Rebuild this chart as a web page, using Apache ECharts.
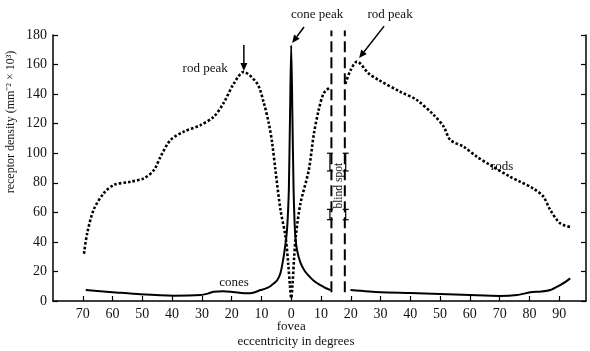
<!DOCTYPE html>
<html>
<head>
<meta charset="utf-8">
<script src="https://cdn.jsdelivr.net/npm/echarts@6/dist/echarts.min.js"></script>
<style>
  html, body { margin: 0; padding: 0; background: #fff; }
  #chart { width: 590px; height: 351px; }
</style>
</head>
<body>
<div id="chart"></div>
<script>
// eccentricity (degrees, negative = left half of the plot) and density (mm^-2 x 10^3)
var rodDeg = [-69.6, -68.5, -66.3, -62.9, -59.6, -54, -49.5, -46.1, -43.9, -40.5, -36.2, -30.5, -26, -22.7, -19.3, -16,
  -11.4, -9.2, -7.5, -6.4, -5.3, -3.6, -1.9, -1.0, -0.4, 0, 0.4, 1.0, 1.6, 3.1, 5.9, 7.6, 9.2, 10.9, 13.2,
  null, 18.2, 19.9, 22.1, 26, 29.4, 36.6, 42.2, 47.8, 51.2, 53.4, 57.9, 62.4, 66.8, 73.6, 76.9, 81.4, 84.7, 87, 90.3, 93.7];
var rodDensity = [32, 46, 62, 73, 78.5, 80.7, 83, 88.6, 97.6, 109, 114.5, 119, 124.7, 134, 147, 155,
  147, 134, 120, 107, 88.6, 61.6, 43.5, 25, 10, 2, 10, 30, 45, 66, 88.6, 113, 129, 140.5, 145,
  null, 147, 156, 162, 154, 149.5, 141.6, 136, 126, 118, 109, 104.4, 97.6, 92, 84, 80.7, 76, 70.6, 61.6, 52.6, 50];

var coneDeg = [-69, -60, -50.6, -39.5, -30.5, -28, -26, -23, -20.4, -17.5, -14.8, -12.5, -10.3, -8.5, -7, -5.8, -4.7, -3.6,
  -2.7, -1.9, -1.5, -1.2, -0.8, -0.4, 0, 0.4, 0.8, 1.1, 1.4, 2.0, 3.1, 4.5, 6.4, 8, 9.8, 11.5, 13.2,
  null, 19.9, 30, 40, 50, 60, 70, 75.8, 80.3, 84, 87, 90.3, 92, 93.7];
var coneDensity = [7.4, 6, 4.5, 3.6, 4, 5, 6.3, 6.6, 6.3, 5.6, 5.2, 5.8, 7.4, 8.5, 10, 12, 14, 19,
  28, 39, 46, 55, 75, 125, 173, 125, 75, 55, 43.5, 34, 26, 20.5, 16, 13, 10.8, 8.8, 7.4,
  null, 7.4, 5.9, 5.4, 4.7, 4, 3.4, 4, 5.9, 6.4, 7.4, 10.8, 12.8, 15.3];

var xTicks = [-70, -60, -50, -40, -30, -20, -10, 0, 10, 20, 30, 40, 50, 60, 70, 80, 90];
var blindSpot = [13.5, 18];
var blindSpotSpan = [6, 183];

function pairs(xs, ys) {
  return xs.map(function (x, i) {
    return x === null ? ['-', '-'] : [x, ys[i]];
  });
}

var FONT = 'Liberation Serif';
var dom = document.getElementById('chart');
var myChart = echarts.init(dom, null, { renderer: 'canvas' });

var axisLine = { show: true, onZero: false, lineStyle: { color: '#000', width: 1.5 } };

var series = [{
  name: 'rods', type: 'line', data: pairs(rodDeg, rodDensity),
  smooth: 0.3, showSymbol: false, clip: false,
  lineStyle: { color: '#000', width: 2.6, type: [2.6, 2] }
}, {
  name: 'cones', type: 'line', data: pairs(coneDeg, coneDensity),
  smooth: 0.25, showSymbol: false, clip: false,
  lineStyle: { color: '#000', width: 2 }
}];
// blind spot borders
blindSpot.forEach(function (b) {
  series.push({
    type: 'line', showSymbol: false, clip: false, silent: true,
    data: blindSpotSpan.map(function (v) { return [b, v]; }),
    lineStyle: { color: '#000', width: 2, type: [11, 5] }
  });
});

var option = {
  animation: false,
  backgroundColor: '#fff',
  grid: { left: 53, right: 4, top: 35, bottom: 50, containLabel: false },
  xAxis: {
    type: 'value', min: -80, max: 99,
    axisLine: axisLine,
    splitLine: { show: false },
    axisTick: { inside: true, length: 5, customValues: xTicks, lineStyle: { color: '#000', width: 1.2 } },
    axisLabel: {
      customValues: xTicks, margin: 6, color: '#111', fontFamily: FONT, fontSize: 14,
      formatter: function (v) { return Math.abs(v); }
    }
  },
  yAxis: [{
    type: 'value', min: 0, max: 180, interval: 20, position: 'left',
    axisLine: axisLine,
    splitLine: { show: false },
    axisTick: { show: true, inside: true, length: 5, lineStyle: { color: '#000', width: 1.2 } },
    axisLabel: { margin: 6, color: '#111', fontFamily: FONT, fontSize: 14 }
  }, {
    type: 'value', min: 0, max: 180, interval: 20, position: 'right',
    axisLine: axisLine,
    splitLine: { show: false },
    axisTick: { show: true, inside: true, length: 5, lineStyle: { color: '#000', width: 1.2 } },
    axisLabel: { show: false }
  }],
  series: series
};
myChart.setOption(option);

// annotations, placed in data coordinates
function px(d, v) { return myChart.convertToPixel({ gridIndex: 0 }, [d, v]); }
var textStyle = function (t, size) {
  return { text: t, fill: '#111', font: size + 'px "' + FONT + '"', align: 'center', verticalAlign: 'middle' };
};
var els = [];
function addText(t, d, v, size, rot) {
  var p = px(d, v);
  els.push({ type: 'text', x: p[0], y: p[1], rotation: rot || 0, style: textStyle(t, size) });
}
function addArrow(d0, v0, d1, v1) {
  var a = px(d0, v0), b = px(d1, v1);
  var ang = Math.atan2(b[1] - a[1], b[0] - a[0]);
  var L = 8, W = 3.5;
  var bx = b[0] - L * Math.cos(ang), by = b[1] - L * Math.sin(ang);
  els.push({ type: 'line', shape: { x1: a[0], y1: a[1], x2: bx, y2: by }, style: { stroke: '#000', lineWidth: 1.5 } });
  els.push({ type: 'polygon', shape: { points: [b,
    [bx + W * Math.sin(ang), by - W * Math.cos(ang)],
    [bx - W * Math.sin(ang), by + W * Math.cos(ang)]] }, style: { fill: '#000' } });
}
function addBracket(d, v0, v1) {
  var a = px(d, v0), b = px(d, v1);
  var s = { stroke: '#000', lineWidth: 1.2 };
  els.push({ type: 'line', shape: { x1: a[0], y1: a[1], x2: b[0], y2: b[1] }, style: s });
  els.push({ type: 'line', shape: { x1: a[0] - 3, y1: a[1], x2: a[0] + 3, y2: a[1] }, style: s });
  els.push({ type: 'line', shape: { x1: b[0] - 3, y1: b[1], x2: b[0] + 3, y2: b[1] }, style: s });
}

addText('cone peak', 8.7, 194, 13);
addArrow(4.3, 185.4, 0.3, 174.6);
addText('rod peak', 33.2, 194, 13);
addArrow(31.2, 186, 22.8, 164.4);
addText('rod peak', -28.9, 157, 13);
addArrow(-15.9, 173.2, -15.9, 155.6);
addText('cones', -19.2, 12.2, 13);
addText('rods', 70.8, 91.3, 13);
addText('blind spot', 15.9, 78, 11.5, Math.PI / 2);
addBracket(13.0, 55, 62);
addBracket(18.3, 55, 62);
addBracket(13.0, 88, 100);
addBracket(18.3, 88, 100);
addText('fovea', 0, -17, 13);
addText('eccentricity in degrees', 1.6, -27.7, 13);
els.push({ type: 'text', x: 11, y: 122, rotation: Math.PI / 2,
  style: textStyle('receptor density (mm\u207B\u00B2 \u00D7 10\u00B3)', 12) });

myChart.setOption({ graphic: els });
window.addEventListener('resize', myChart.resize);
</script>
</body>
</html>
